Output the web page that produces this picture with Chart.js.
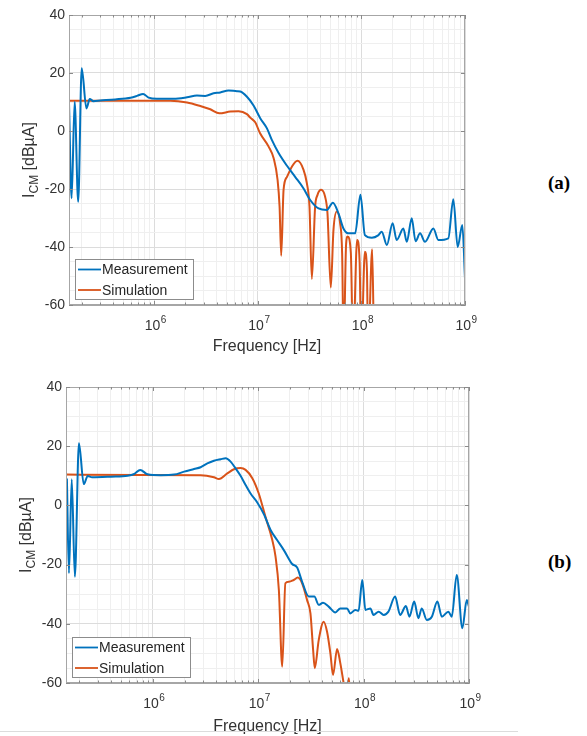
<!DOCTYPE html>
<html>
<head>
<meta charset="utf-8">
<script src="https://cdn.jsdelivr.net/npm/chart.js@4.4.1/dist/chart.umd.min.js"></script>
<style>
  body { margin: 0; background: #fff; width: 587px; height: 736px; position: relative; overflow: hidden; }
  canvas { position: absolute; left: 0; }
  .tag { position: absolute; left: 548px; font: bold 19px "Liberation Serif", "Times New Roman", serif; color: #000; }
  .rule { position: absolute; left: 0; top: 731px; width: 518px; height: 1px; background: #dcdcdc; }
</style>
</head>
<body>
<canvas id="chartA" width="490" height="360" style="top:0px"></canvas>
<canvas id="chartB" width="490" height="364" style="top:372px"></canvas>
<div class="tag" style="top:172px">(a)</div>
<div class="tag" style="top:551px">(b)</div>
<div class="rule"></div>
<script>
// ---- data (frequency in Hz, level in dBuA) ----
var freqMeasA = [1.5e5, 1.59e5, 1.70e5, 1.84e5, 1.99e5, 2.21e5, 2.38e5, 2.58e5, 3.0e5, 4.2e5,
    5.9e5, 6.8e5, 7.8e5, 8.8e5, 1.06e6, 1.54e6, 2.07e6, 2.58e6, 3.1e6, 3.73e6,
    4.33e6, 5.21e6, 6.28e6, 6.76e6, 7.84e6, 9.08e6, 1.05e7, 1.22e7, 1.36e7, 1.58e7,
    1.91e7, 2.29e7, 2.76e7, 3.2e7, 3.85e7, 4.64e7, 5.3e7, 6.0e7, 6.7e7, 7.49e7,
    8.69e7, 9.78e7, 1.08e8, 1.26e8, 1.45e8, 1.57e8, 1.76e8, 2.0e8, 2.19e8, 2.54e8,
    2.74e8, 3.06e8, 3.33e8, 3.68e8, 4.11e8, 4.95e8, 5.53e8, 6.9e8, 7.71e8, 8.5e8,
    9.42e8, 1e9];
var levelMeasA = [9.8, -23.2, 10.1, -24.4, 21.6, 7.8, 11.0, 10.3, 10.5, 10.9,
    11.5, 12.1, 12.8, 11.5, 11.1, 11.1, 11.6, 12.2, 12.1, 13.0,
    13.3, 14.0, 13.7, 13.6, 11.8, 8.8, 4.5, 1.0, -3, -7.5,
    -12, -15.8, -19.8, -23.8, -26.7, -27.2, -24.7, -28.4, -33.6, -35.3,
    -35.3, -22, -35.9, -36.8, -36, -34.7, -39.3, -31.8, -37.6, -33.6,
    -38.2, -30.1, -38, -35.3, -38.2, -33.6, -37.6, -37.0, -23.5, -40,
    -32.4, -50.8];

var freqSimA = [1.5e5, 1.43e6, 2.07e6, 2.78e6, 3.47e6, 4.24e6, 5.41e6, 6.51e6, 7.84e6, 8.44e6,
    9.43e6, 1.05e7, 1.27e7, 1.42e7, 1.55e7, 1.62e7, 1.68e7, 1.77e7, 1.91e7, 2.13e7,
    2.41e7, 2.76e7, 2.97e7, 3.15e7, 3.32e7, 3.57e7, 3.76e7, 4.08e7, 4.46e7, 4.70e7,
    5.06e7, 5.37e7, 5.78e7, 6.22e7, 6.51e7, 6.73e7, 7.11e7, 7.35e7, 7.9e7, 8.3e7,
    9.08e7, 9.6e7, 9.95e7, 1.08e8, 1.13e8, 1.16e8, 1.27e8, 1.32e8];
var levelSimA = [10.4, 10.4, 9.8, 8.6, 7.5, 6.1, 6.7, 6.8, 5.8, 4.6,
    3.0, -0.8, -5.4, -9.4, -16.9, -26.1, -43, -20.3, -15.8, -12.3,
    -10.3, -13.4, -18, -26.1, -51, -26.1, -22.1, -20.3, -22.7, -28.4,
    -54, -34.1, -27.8, -31.8, -42.2, -75, -39, -36.4, -42, -75,
    -37.6, -45, -75, -41.6, -48, -75, -40.8, -75];

var freqMeasB = [1.53e5, 1.60e5, 1.70e5, 1.82e5, 1.99e5, 2.21e5, 2.41e5, 2.65e5, 4.01e5, 5.77e5,
    6.66e5, 7.59e5, 8.91e5, 1.19e6, 1.59e6, 1.98e6, 2.46e6, 2.84e6, 3.29e6, 3.80e6,
    4.40e6, 4.91e6, 5.47e6, 6.10e6, 6.80e6, 7.59e6, 8.46e6, 9.79e6, 1.13e7, 1.31e7,
    1.51e7, 1.75e7, 2.10e7, 2.34e7, 2.61e7, 3.02e7, 3.41e7, 3.75e7, 4.12e7, 4.66e7,
    5.39e7, 6.01e7, 6.96e7, 7.48e7, 8.34e7, 8.96e7, 9.71e7, 1.04e8, 1.16e8, 1.24e8,
    1.39e8, 1.55e8, 1.72e8, 1.99e8, 2.22e8, 2.52e8, 2.72e8, 3.02e8, 3.31e8, 3.56e8,
    3.98e8, 4.44e8, 5.01e8, 5.52e8, 6.37e8, 6.86e8, 7.65e8, 8.65e8, 9.52e8, 1e9];
var levelMeasB = [9.1, -22.9, 8.8, -24.1, 21, 7.2, 9.9, 9.5, 9.7, 10.0,
    10.6, 12.0, 10.5, 10.2, 10.4, 11.4, 12.3, 12.9, 14.2, 15.1,
    15.6, 15.9, 14.8, 12.5, 10, 6.9, 4, 1.0, -2.9, -8.3,
    -11.7, -15.1, -19.8, -21, -25.8, -30.8, -30.8, -33.6, -32.9, -34.2,
    -36.2, -34.8, -34.8, -36.5, -35.3, -35.6, -25.2, -35.3, -34.8, -37,
    -35.9, -37, -35.9, -30.8, -37, -34, -37.6, -32.5, -38.1, -34.8,
    -38.7, -37.6, -32.5, -37.6, -35.9, -37.6, -23.5, -41.5, -32, -34.2];

var freqSimB = [1.53e5, 2.84e6, 3.80e6, 4.24e6, 5.09e6, 5.88e6, 6.80e6, 7.59e6, 8.79e6, 1.01e7,
    1.17e7, 1.36e7, 1.46e7, 1.57e7, 1.69e7, 1.81e7, 1.95e7, 2.17e7, 2.37e7, 2.61e7,
    2.91e7, 3.13e7, 3.32e7, 3.44e7, 3.75e7, 4.18e7, 4.50e7, 4.84e7, 5.13e7, 5.60e7,
    6.01e7, 6.46e7, 6.85e7, 7.24e7, 7.64e7];
var levelSimB = [10.4, 10.2, 9.5, 8.9, 10.8, 12.2, 12.6, 12.0, 9.2, 4.1,
    -3.8, -11.7, -17.3, -28.6, -54.5, -26.3, -25.8, -25.2, -24.4, -26.3,
    -32, -36.5, -48.9, -55, -45.5, -39.3, -42.7, -50, -57.3, -48.5,
    -53.3, -60, -65, -58.4, -70];

var seriesNames = ["Measurement", "Simulation"];
var seriesColors = ["#0072BD", "#D95319"];
var decadeExponents = [6, 7, 8, 9];   // x tick labels 10^6 .. 10^9
var freqMin = 1.5e5, freqMax = 1e9;
var levelMin = -60, levelMax = 40;

var fontFamily = "'Liberation Sans', Arial, sans-serif";
var tickFont = { family: fontFamily, size: 14 };
var textColor = "#333333";

function pairs(xs, ys) {
    return xs.map(function (x, i) { return { x: x, y: ys[i] }; });
}

function isDecade(v) {
    var e = Math.log10(v);
    return Math.abs(e - Math.round(e)) < 1e-9;
}

// box round the axes plus MATLAB style inward tick marks
var framePlugin = {
    id: "frame",
    afterDatasetsDraw: function (chart) {
        var a = chart.chartArea, ctx = chart.ctx;
        var xs = chart.scales.x, ys = chart.scales.y;
        ctx.save();
        ctx.strokeStyle = "#a6a6a6";
        ctx.lineWidth = 1;
        ctx.strokeRect(a.left + 0.5, a.top + 0.5, a.right - a.left - 1, a.bottom - a.top - 1);
        ctx.strokeStyle = "#8a8a8a";
        ctx.beginPath();
        xs.ticks.forEach(function (t) {
            var x = Math.round(xs.getPixelForValue(t.value)) + 0.5;
            var len = isDecade(t.value) ? 4 : 2.5;
            ctx.moveTo(x, a.bottom); ctx.lineTo(x, a.bottom - len);
            ctx.moveTo(x, a.top); ctx.lineTo(x, a.top + len);
        });
        ys.ticks.forEach(function (t) {
            if (t.value % 20 !== 0) return;
            var y = Math.round(ys.getPixelForValue(t.value)) + 0.5;
            ctx.moveTo(a.left, y); ctx.lineTo(a.left + 4, y);
            ctx.moveTo(a.right, y); ctx.lineTo(a.right - 4, y);
        });
        ctx.stroke();
        ctx.restore();
    }
};

// "10" with a raised exponent under each decade line
var decadeLabelPlugin = {
    id: "decadeLabels",
    afterDraw: function (chart) {
        var xs = chart.scales.x, ctx = chart.ctx, base = chart.chartArea.bottom + 25;
        ctx.save();
        ctx.fillStyle = textColor;
        ctx.textBaseline = "alphabetic";
        decadeExponents.forEach(function (e) {
            var x = xs.getPixelForValue(Math.pow(10, e));
            ctx.font = "14px " + fontFamily;
            var w1 = ctx.measureText("10").width;
            ctx.font = "10px " + fontFamily;
            var w2 = ctx.measureText(String(e)).width;
            var x0 = x - (w1 + w2) / 2 + 1;
            ctx.font = "14px " + fontFamily;
            ctx.fillText("10", x0, base);
            ctx.font = "10px " + fontFamily;
            ctx.fillText(String(e), x0 + w1 + 0.5, base - 7);
        });
        ctx.restore();
    }
};

// legend sitting inside the lower left corner of the axes
var legendBoxPlugin = {
    id: "legendBox",
    afterDraw: function (chart) {
        var a = chart.chartArea, ctx = chart.ctx;
        var sets = chart.data.datasets;
        ctx.save();
        ctx.font = "14px " + fontFamily;
        var w = 0;
        sets.forEach(function (d) { w = Math.max(w, ctx.measureText(d.label).width); });
        var bw = Math.round(w + 32), bh = 40;
        var bx = a.left + 6, by = a.bottom - 6 - bh;
        ctx.fillStyle = "#fff";
        ctx.fillRect(bx, by, bw, bh);
        ctx.strokeStyle = "#8c8c8c";
        ctx.lineWidth = 1;
        ctx.strokeRect(bx + 0.5, by + 0.5, bw, bh);
        sets.forEach(function (d, i) {
            var y = by + 10.5 + i * 20.5;
            ctx.strokeStyle = d.borderColor;
            ctx.lineWidth = 1.8;
            ctx.beginPath();
            ctx.moveTo(bx + 3, y);
            ctx.lineTo(bx + 26, y);
            ctx.stroke();
            ctx.fillStyle = "#262626";
            ctx.textBaseline = "middle";
            ctx.fillText(d.label, bx + 27, y + 1);
        });
        ctx.restore();
    }
};

// y title with the CM subscript, rotated
var yTitlePlugin = {
    id: "yTitle",
    afterDraw: function (chart) {
        var a = chart.chartArea, ctx = chart.ctx;
        var main = "16px " + fontFamily;
        var sub = "12px " + fontFamily;
        ctx.save();
        ctx.font = main;
        var w1 = ctx.measureText("I").width;
        var w3 = ctx.measureText(" [dB\u00b5A]").width;
        ctx.font = sub;
        var w2 = ctx.measureText("CM").width;
        var total = w1 + w2 + w3;
        ctx.translate(a.left - 41, (a.top + a.bottom) / 2);
        ctx.rotate(-Math.PI / 2);
        ctx.fillStyle = textColor;
        ctx.textBaseline = "alphabetic";
        var x = -total / 2;
        ctx.font = main;
        ctx.fillText("I", x, 6);
        ctx.font = sub;
        ctx.fillText("CM", x + w1, 10);
        ctx.font = main;
        ctx.fillText(" [dB\u00b5A]", x + w1 + w2, 6);
        ctx.restore();
    }
};

function makeChart(id, meas, sim, geo) {
    var ctx = document.getElementById(id).getContext("2d");
    return new Chart(ctx, {
        type: "line",
        data: {
            datasets: [
                { label: seriesNames[0], data: pairs(meas[0], meas[1]), borderColor: seriesColors[0],
                  borderWidth: 2, pointRadius: 0, cubicInterpolationMode: "monotone", fill: false },
                { label: seriesNames[1], data: pairs(sim[0], sim[1]), borderColor: seriesColors[1],
                  borderWidth: 2, pointRadius: 0, cubicInterpolationMode: "monotone", fill: false }
            ]
        },
        options: {
            responsive: false,
            animation: false,
            layout: { padding: { top: geo.top, right: geo.right, left: 0, bottom: geo.bottom } },
            plugins: { legend: { display: false }, tooltip: { enabled: false } },
            scales: {
                x: {
                    type: "logarithmic",
                    min: freqMin, max: freqMax,
                    afterBuildTicks: function (scale) {
                        var t = [];
                        for (var e = 5; e <= 9; e++) {
                            for (var m = 1; m <= 9; m++) {
                                var v = m * Math.pow(10, e);
                                if (v >= freqMin && v <= freqMax) t.push({ value: v });
                            }
                        }
                        scale.ticks = t;
                    },
                    afterFit: function (scale) { scale.height = geo.xAxis; },
                    ticks: {
                        autoSkip: false, maxRotation: 0, padding: 8,
                        font: tickFont, color: textColor,
                        // labels are drawn by decadeLabelPlugin (needs a superscript)
                        callback: function () { return ""; }
                    },
                    grid: {
                        drawTicks: false,
                        color: function (c) { return isDecade(c.tick.value) ? "#dcdcdc" : "#efefef"; }
                    },
                    border: { color: "#a6a6a6" },
                    title: {
                        display: true, text: "Frequency [Hz]", color: textColor,
                        font: { family: fontFamily, size: 16 },
                        padding: { top: 4, bottom: 0 }
                    }
                },
                y: {
                    min: levelMin, max: levelMax,
                    afterFit: function (scale) { scale.width = geo.yAxis; },
                    ticks: {
                        stepSize: 5, padding: 4, autoSkip: false,
                        font: tickFont, color: textColor,
                        callback: function (v) { return v % 20 === 0 ? String(v) : ""; }
                    },
                    grid: {
                        drawTicks: false,
                        color: function (c) { return c.tick.value % 20 === 0 ? "#dcdcdc" : "#efefef"; }
                    },
                    border: { color: "#a6a6a6" }
                }
            }
        },
        plugins: [framePlugin, decadeLabelPlugin, legendBoxPlugin, yTitlePlugin]
    });
}

makeChart("chartA", [freqMeasA, levelMeasA], [freqSimA, levelSimA],
    { top: 15, right: 25, bottom: 4, yAxis: 69, xAxis: 51 });
makeChart("chartB", [freqMeasB, levelMeasB], [freqSimB, levelSimB],
    { top: 15, right: 21, bottom: 0, yAxis: 66, xAxis: 53 });
</script>
</body>
</html>
